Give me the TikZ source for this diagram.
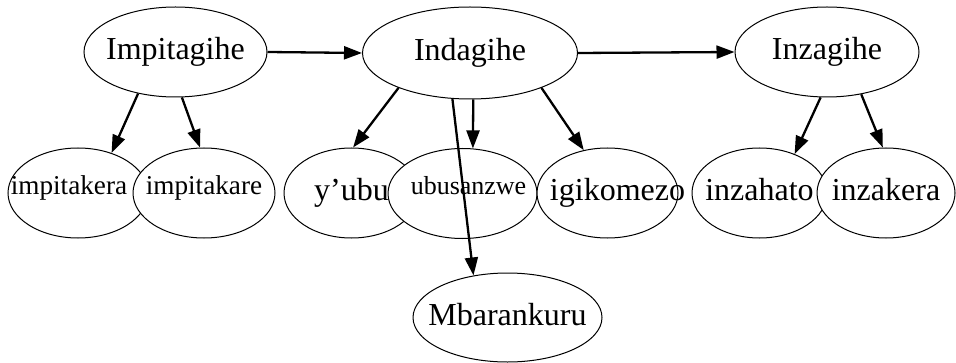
\documentclass[tikz,border=0pt]{standalone}
\usepackage{fontspec}
\setmainfont{Liberation Serif}
\usetikzlibrary{shapes.geometric,arrows.meta}

\newcommand{\wordtext}[2][0pt]{\makebox[0pt]{\hspace*{#1}#2}}

\tikzset{
  word/.style={ellipse, draw=black, fill=white, line width=0.5pt, inner sep=0pt,
    minimum height=45pt, font=\fontsize{16}{19}\selectfont, text height=8.5pt, text depth=1pt},
  smallword/.style={word, font=\fontsize{13.6}{16}\selectfont, text height=6pt, text depth=5pt},
  link/.style={line width=1.15pt, -{Triangle[length=9pt,width=6.5pt]}}
}

\begin{document}
\begin{tikzpicture}[x=0.5pt,y=-0.5pt]
\useasboundingbox (0,0) rectangle (956,363);

\node[word, minimum width=91.5pt] (impitagihe) at (175.5,52) {\wordtext{Impitagihe}};
\node[word, minimum width=107.5pt, minimum height=46pt] (indagihe) at (470,53) {\wordtext{Indagihe}};
\node[word, minimum width=92pt] (inzagihe) at (827,52) {\wordtext{Inzagihe}};

\node[smallword, minimum width=70pt] (impitakera) at (78,193) {\wordtext[-9pt]{impitakera}};
\node[smallword, minimum width=71pt] (impitakare) at (204,193) {\wordtext{impitakare}};
\node[word, minimum width=67.5pt] (yubu) at (351.5,193) {\wordtext{y’ubu}};
\node[smallword, minimum width=74.5pt, font=\fontsize{13}{15}\selectfont] (ubusanzwe) at (462.5,193.5) {\wordtext[6pt]{ubusanzwe}};
\node[word, minimum width=70.5pt] (igikomezo) at (607.5,193) {\wordtext[10pt]{igikomezo}};
\node[word, minimum width=67.5pt] (inzahato) at (759.5,193) {\wordtext{inzahato}};
\node[word, minimum width=69pt] (inzakera) at (886,193) {\wordtext{inzakera}};

\node[word, minimum width=94.5pt, minimum height=44.5pt] (mbarankuru) at (507.5,317.5) {\wordtext{Mbarankuru}};

\draw[link] (impitagihe.east) -- (indagihe.west);
\draw[link] (indagihe.east) -- (inzagihe.west);

\draw[link] (impitagihe.228) -- (impitakera.50);
\draw[link] (impitagihe.278) -- (impitakare.95);

\draw[link] (indagihe.206) -- (yubu.88);
\draw[link] (indagihe.274) -- (ubusanzwe.77);
\draw[link] (indagihe.249) -- (mbarankuru.129);
\draw[link] (indagihe.334) -- (igikomezo.119);

\draw[link] (inzagihe.262) -- (inzahato.48);
\draw[link] (inzagihe.309) -- (inzakera.94);

\end{tikzpicture}
\end{document}
